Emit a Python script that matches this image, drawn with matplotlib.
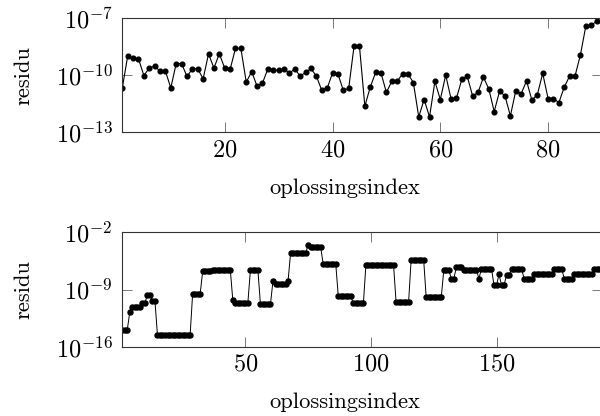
import numpy as np
import matplotlib
matplotlib.use("Agg")
import matplotlib.pyplot as plt

plt.rcParams["font.family"] = "cmr10"
plt.rcParams["mathtext.fontset"] = "cm"
plt.rcParams["axes.formatter.use_mathtext"] = True

# top panel: log10 of residual per solution index (1..89)
top_log = [-10.67, -9.00, -9.12, -9.14, -10.02, -9.63, -9.53, -9.79, -9.79, -10.67,
           -9.39, -9.39, -10.07, -9.67, -9.67, -10.19, -8.88, -9.63, -8.88, -9.63,
           -9.70, -8.60, -8.60, -10.37, -9.81, -10.58, -10.42, -9.68, -9.74, -9.74,
           -9.67, -9.89, -9.68, -10.05, -9.86, -9.65, -10.05, -10.79, -10.70, -9.89,
           -9.93, -10.79, -10.70, -8.47, -8.47, -11.63, -10.63, -9.86, -9.89, -10.91,
           -10.32, -10.32, -9.93, -9.93, -10.39, -12.19, -11.28, -12.19, -10.33, -11.28,
           -10.00, -11.25, -11.21, -10.21, -10.07, -11.09, -10.91, -10.11, -10.72, -11.91,
           -10.84, -11.09, -12.14, -10.82, -10.98, -10.30, -11.32, -11.02, -9.91, -11.23,
           -11.23, -11.44, -10.63, -10.04, -10.04, -8.93, -7.42, -7.37, -7.18]

# bottom panel: plateaus (run length, log10 residual)
bot_runs = [3, 1, 4, 2, 2, 2, 14, 4, 4, 8,
            1, 6, 4, 5, 1, 5, 1, 7, 1, 5,
            6, 6, 5, 12, 6, 6, 7, 3, 2, 3,
            6, 1, 5, 2, 1, 2, 2, 5, 4, 8,
            4, 4, 8, 4]
bot_vals = [-13.9, -11.7, -11.2, -10.65, -9.66, -10.4, -14.6, -9.55, -6.78, -6.6,
            -10.3, -10.6, -6.67, -10.77, -7.94, -8.35, -7.94, -4.58, -3.5, -3.86,
            -5.9, -9.85, -10.68, -5.98, -10.5, -5.4, -9.96, -6.63, -7.66, -6.3,
            -6.63, -7.66, -6.47, -8.47, -7.16, -8.47, -7.2, -6.55, -7.66, -7.16,
            -6.55, -7.66, -7.16, -6.55]

top_y = 10.0 ** np.array(top_log)
top_x = np.arange(1, len(top_y) + 1)
bot_y = 10.0 ** np.repeat(bot_vals, bot_runs)
bot_x = np.arange(1, len(bot_y) + 1)

fig = plt.figure(figsize=(6.0, 4.16), dpi=100)
W, H = 600.0, 416.0
ax1 = fig.add_axes([122.3 / W, 1 - 132.3 / H, (602 - 122.3) / W, 114.3 / H])
ax2 = fig.add_axes([122.3 / W, 1 - 346.7 / H, (602 - 122.3) / W, 114.4 / H])

FS = 16.2
TFS = 17.5

def style(ax, xticks, yticks, ylabels):
    ax.set_yscale("log")
    ax.set_xticks(xticks)
    ax.set_yticks(yticks, ylabels)
    ax.minorticks_off()
    ax.tick_params(direction="in", length=7, width=0.5, color="#444444",
                   top=True, right=True, labelsize=TFS)
    ax.tick_params(axis="x", pad=5)
    ax.tick_params(axis="y", pad=7)
    for sp in ax.spines.values():
        sp.set_linewidth(0.8)
        sp.set_color("#333333")
    ax.set_xlabel("oplossingsindex", fontsize=FS, labelpad=10)
    ax.set_ylabel("residu", fontsize=FS, labelpad=16)
    # label sits left of the axis centre, as in the original
    ax.xaxis.set_label_coords((345 - 122.3) / (602 - 122.3), -0.40)

ax1.plot(top_x, top_y, "-o", color="black", lw=0.8, ms=3.4)
ax1.set_xlim(1, 90)
ax1.set_ylim(1e-13, 1e-7)
style(ax1, [20, 40, 60, 80], [1e-13, 1e-10, 1e-7],
      [r"$10^{-13}$", r"$10^{-10}$", r"$10^{-7}$"])

ax2.plot(bot_x, bot_y, "-o", color="black", lw=0.7, ms=3.6)
ax2.set_xlim(1, 192)
ax2.set_ylim(1e-16, 1e-2)
style(ax2, [50, 100, 150], [1e-16, 1e-9, 1e-2],
      [r"$10^{-16}$", r"$10^{-9}$", r"$10^{-2}$"])

fig.savefig("out.png", dpi=100)
